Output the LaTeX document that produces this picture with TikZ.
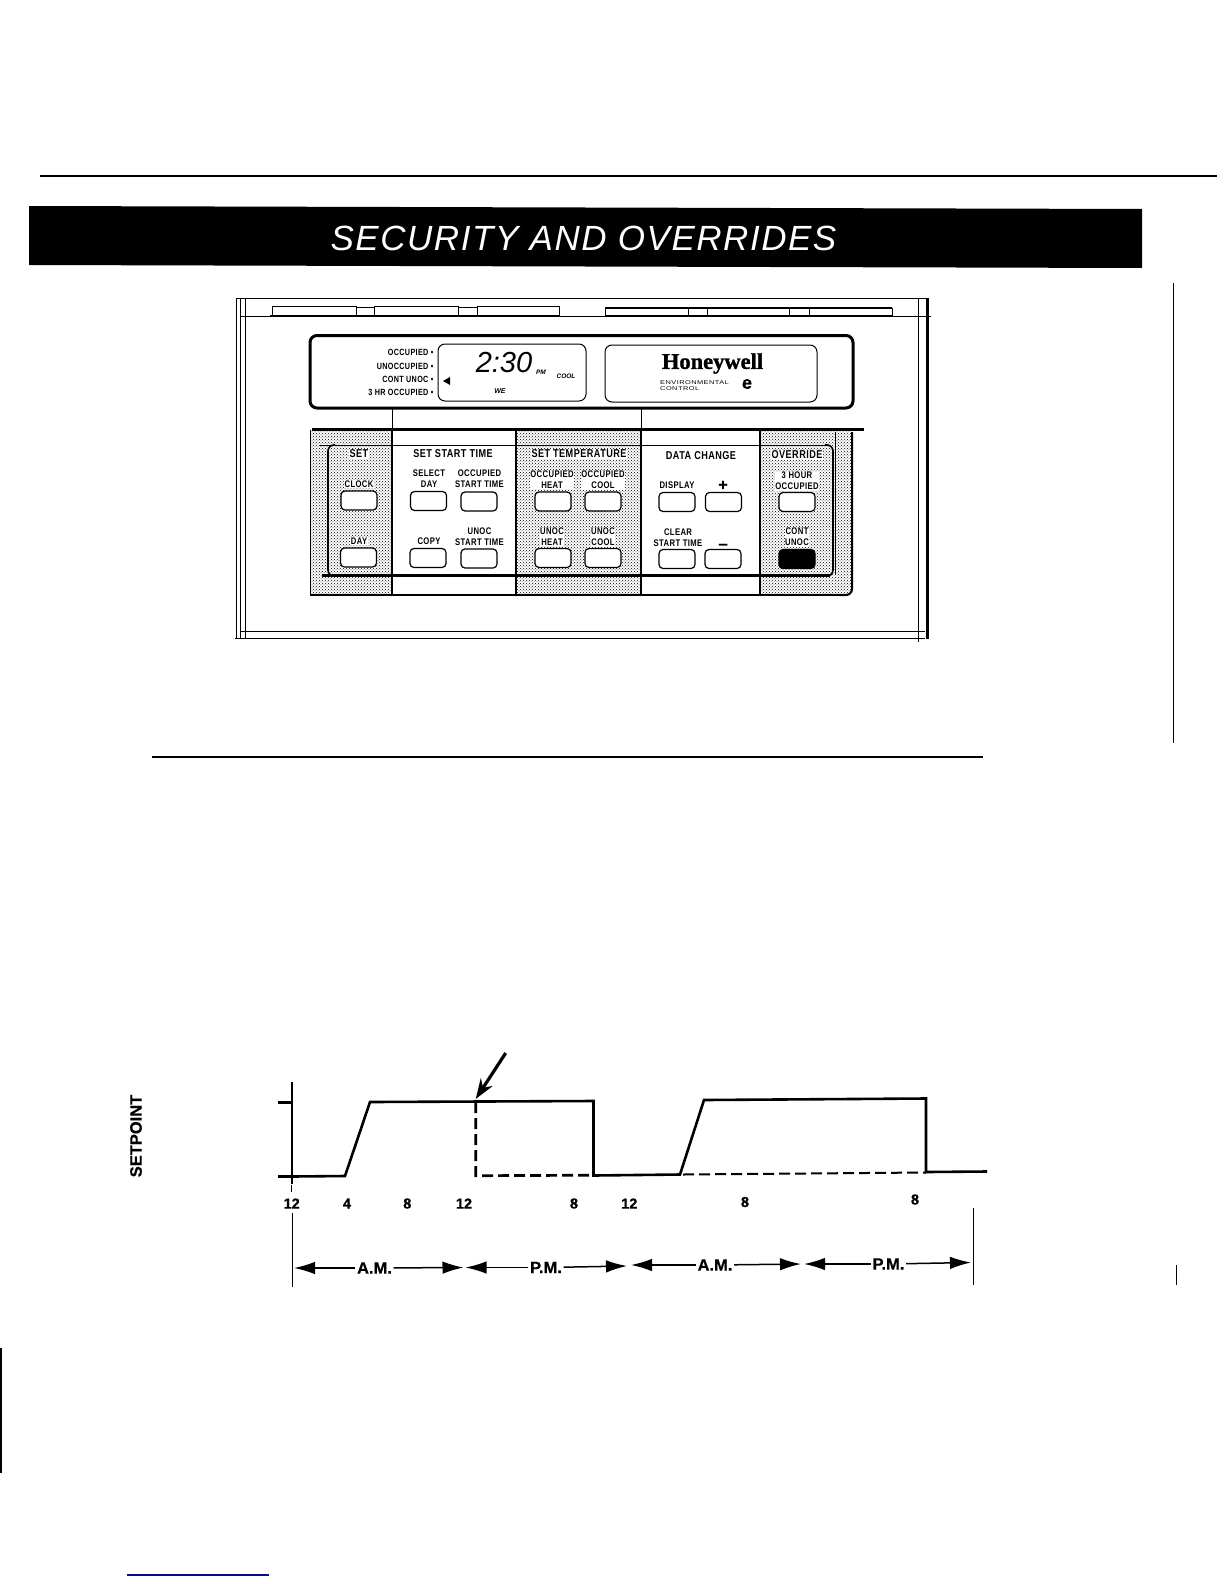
\documentclass[tikz,border=0pt]{standalone}
\usepackage{fontspec}
\usetikzlibrary{arrows.meta,patterns}
\setmainfont{Liberation Sans}
\newfontfamily\panelfont[FakeStretch=0.8,LetterSpace=4]{Liberation Sans}
\newfontfamily\bannerfont[LetterSpace=4.4]{Liberation Sans}
\newfontfamily\brandfont[FakeBold=1.2]{Liberation Serif}
\newfontfamily\smallfont[FakeStretch=1.35,LetterSpace=8]{Liberation Sans}
\newfontfamily\heavyfont[FakeBold=0.5]{Liberation Sans}
\definecolor{footblue}{RGB}{10,10,140}
\tikzset{
    lamptext/.style={font=\panelfont\bfseries\fontsize{9}{11}\selectfont,inner sep=0.5pt},
    paneltext/.style={font=\panelfont\bfseries\fontsize{9.6}{11.2}\selectfont,align=center,inner sep=0.5pt},
    shadetext/.style={paneltext,fill=white},
    headtext/.style={font=\panelfont\bfseries\fontsize{11.4}{12}\selectfont,inner sep=0.5pt},
    panelbtn/.style={draw,line width=1.2pt,rounded corners=4pt,minimum width=36pt,minimum height=19pt,inner sep=0pt},
    hourtext/.style={font=\heavyfont\bfseries\fontsize{14.5}{15}\selectfont,inner sep=0pt},
    spantext/.style={font=\heavyfont\bfseries\fontsize{16.5}{17}\selectfont,inner sep=1.5pt},
    spanline/.style={line width=1.5pt,-{Latex[length=21pt,width=12.5pt]}},
    curve/.style={line width=2.6pt,line join=miter},
    dashcurve/.style={line width=2.7pt,dash pattern=on 11pt off 5pt},
    stipple/.style={pattern=crosshatch dots,pattern color=black}
}
\begin{document}
\begin{tikzpicture}[x=1pt,y=-1pt]
    \useasboundingbox (0,0) rectangle (1224,1584);

    % rules round the page
    \draw[line width=2.4pt] (40,176) -- (1217,176);
    \draw[line width=1.1pt] (152,757) -- (983,757);
    \draw[line width=1.1pt] (1173.5,283) -- (1173.5,743);
    \draw[line width=1pt] (1176.5,1265) -- (1176.5,1285);
    \draw[line width=2pt] (1,1348) -- (1,1473);
    \draw[line width=1.2pt,footblue] (127,1575) -- (269,1575);

    % banner
    \fill (29,206) -- (1142,209) -- (1142,268) -- (29,265) -- cycle;
    \node[white,font=\bannerfont\itshape\fontsize{35}{36}\selectfont,inner sep=0pt] (banner) at (583.5,238) {SECURITY AND OVERRIDES};

    % frame of the device
    \draw[line width=0.9pt] (236,298) -- (927,298);
    \draw[line width=0.9pt] (240,316) -- (931,316);
    \draw[line width=0.9pt] (240,631) -- (925,631);
    \draw[line width=0.9pt] (235,638) -- (925,638);
    \draw[line width=0.9pt] (236,298) -- (236,639);
    \draw[line width=0.9pt] (240,298) -- (240,639);
    \draw[line width=0.9pt] (245,298) -- (245,639);
    \draw[line width=0.9pt] (918,299) -- (918,642);
    \draw[line width=3pt] (927,298) -- (927,639);

    % tabs on top
    \foreach \xa/\xb in {272/356,374/458,477/559}
        \draw[line width=1pt] (\xa,316) -- (\xa,306.5) -- (\xb,306.5) -- (\xb,316);
    \draw[line width=1pt] (356,307) -- (374,307);
    \draw[line width=1pt] (458,307) -- (477,307);
    \draw[line width=2pt] (270,315.5) -- (559,315.5);
    \foreach \xa/\xb in {605/688,707/789,809/892}
        \draw[line width=1pt] (\xa,316) -- (\xa,308) -- (\xb,308) -- (\xb,316);
    \draw[line width=1.4pt] (605,308) -- (892,308);
    \draw[line width=2pt] (605,316) -- (892,316);

    % display
    \draw[line width=3pt,rounded corners=7pt] (310,335.5) rectangle (853,408);
    \draw[line width=1pt,rounded corners=7pt] (438,344) rectangle (586,401);
    \draw[line width=1pt,rounded corners=7pt] (605,345) rectangle (817,402);
    \draw[line width=1pt] (392,409) -- (392,430);
    \draw[line width=1pt] (641,409) -- (641,430);

    \node[lamptext,anchor=east] (lamp1) at (434,352.5) {OCCUPIED •};
    \node[lamptext,anchor=east] (lamp2) at (434,366) {UNOCCUPIED •};
    \node[lamptext,anchor=east] (lamp3) at (434,379) {CONT UNOC •};
    \node[lamptext,anchor=east] (lamp4) at (434,392) {3 HR OCCUPIED •};
    \fill (443,381) -- (450,377) -- (450,385) -- cycle;
    \node[font=\itshape\fontsize{29}{30}\selectfont,inner sep=0pt] (clockface) at (504,363) {2:30};
    \node[font=\bfseries\itshape\fontsize{6.5}{7}\selectfont,inner sep=0pt] (pmtext) at (541,372) {PM};
    \node[font=\bfseries\itshape\fontsize{6.5}{7}\selectfont,inner sep=0pt] (cooltext) at (566,376) {COOL};
    \node[font=\bfseries\itshape\fontsize{7}{8}\selectfont,inner sep=0pt] (daytext) at (500,391) {WE};

    \node[font=\brandfont\bfseries\fontsize{22.5}{23}\selectfont,inner sep=0pt] (brand) at (712.5,363.5) {Honeywell};
    \node[font=\smallfont\fontsize{5.5}{6.6}\selectfont,align=left,inner sep=0pt,anchor=west] (brandsub) at (660,385.5) {ENVIRONMENTAL\\CONTROL};
    \node[font=\heavyfont\bfseries\fontsize{18}{18}\selectfont,inner sep=0pt] (brandmark) at (747,384) {e};

    % keypad, shaded parts
    \fill[stipple,rounded corners=5pt] (310,430) -- (310,595) -- (392,595) -- (392,430) -- cycle;
    \fill[stipple] (516,430) rectangle (641,595);
    \fill[stipple,rounded corners=5pt] (760,430) -- (852,430) -- (852,595) -- (760,595) -- cycle;

    \draw[line width=2.4pt] (312,429.5) -- (864,429.5);
    \draw[line width=1.4pt] (310,595) -- (848,595);
    \draw[line width=0.9pt] (310,430) -- (310,595);
    \draw[line width=2pt,rounded corners=6pt] (852,432) -- (852,595) -- (840,595);
    \draw[line width=1.6pt] (392,430) -- (392,595);
    \draw[line width=1.4pt] (516,430) -- (516,595);
    \draw[line width=1.1pt] (641,430) -- (641,595);
    \draw[line width=1.1pt] (760,430) -- (760,595);

    % inner outline
    \draw[line width=1pt] (320,445) -- (828,445);
    \draw[line width=1.6pt,rounded corners=6pt] (335,445) -- (328,445) -- (328,576) -- (335,576);
    \draw[line width=1.6pt,rounded corners=6pt] (825,445) -- (833,445) -- (833,576) -- (825,576);
    \draw[line width=2.8pt] (322,575.5) -- (830,575.5);
    \draw[line width=0.8pt] (835,432) -- (835,574);

    % button labels
    \node[headtext,fill=white] (sethead) at (359,454) {SET};
    \node[shadetext] at (359,484) {CLOCK};
    \node[shadetext] at (359,541) {DAY};

    \node[headtext] (starthead) at (453,454) {SET START TIME};
    \node[paneltext] at (429,479) {SELECT\\DAY};
    \node[paneltext] at (479.5,479) {OCCUPIED\\START TIME};
    \node[paneltext] at (429,541.5) {COPY};
    \node[paneltext] at (479.5,536.5) {UNOC\\START TIME};

    \node[headtext,fill=white] (temphead) at (579,454) {SET TEMPERATURE};
    \node[shadetext] at (552,480) {OCCUPIED\\HEAT};
    \node[shadetext] at (603,480) {OCCUPIED\\COOL};
    \node[shadetext] at (552,537) {UNOC\\HEAT};
    \node[shadetext] at (603,537) {UNOC\\COOL};

    \node[headtext] (datahead) at (701,455.5) {DATA CHANGE};
    \node[paneltext] at (677,485.5) {DISPLAY};
    \node[font=\heavyfont\bfseries\fontsize{16}{16}\selectfont,inner sep=0pt] at (723,485.5) {+};
    \node[paneltext] at (678,537.5) {CLEAR\\START TIME};
    \node[font=\heavyfont\bfseries\fontsize{17}{17}\selectfont,inner sep=0pt] at (723,546.5) {–};

    \node[headtext,fill=white] (overhead) at (797,455) {OVERRIDE};
    \node[shadetext] at (797,481) {3 HOUR\\OCCUPIED};
    \node[shadetext] at (797,537) {CONT\\UNOC};

    % buttons
    \foreach \btn/\px/\py in {clock/359/500.5,day/358.5/557.5,select/428.5/501,occstart/479/501.5,copy/428/558,unocstart/479/558.5,
        occheat/553/501.5,occcool/603/501.5,unocheat/553/558,unoccool/603/558,display/677/502,plus/723.5/502,clear/677/559,minus/723/559,threehr/797/502}
        \node[panelbtn,fill=white] (\btn) at (\px,\py) {};
    \node[panelbtn,fill=black] (contunoc) at (797,559) {};

    % setpoint chart
    \node[rotate=90,font=\heavyfont\bfseries\fontsize{16.5}{17}\selectfont,inner sep=0pt] (setpoint) at (136,1136) {SETPOINT};
    \draw[line width=1.8pt] (292,1082) -- (292,1184);
    \draw[line width=1pt] (291,1185) -- (291,1192);
    \draw[line width=1.8pt] (292.5,1213) -- (292.5,1287);
    \draw[line width=3pt] (278,1102) -- (292,1102);
    \draw[line width=3pt] (278,1176.5) -- (292,1176.5);

    % solid curve, then the dashed one
    \draw[curve] (292,1176.5) -- (345,1176) -- (370,1102) -- (593.5,1101) -- (593.5,1175.5) -- (680,1174.5) -- (704,1100) -- (926,1098.5) -- (926,1172) -- (987,1171.5);
    \draw[dashcurve] (475.7,1102) -- (475.7,1175.7) -- (593,1175.2);
    \draw[dashcurve,line width=2pt] (683,1174.5) -- (926,1172.5);

    \coordinate (pointerfrom) at (505.7,1053);
    \coordinate (pointerto) at (475.7,1099);
    \draw[line width=3.2pt,-{Stealth[length=20pt,width=14pt]}] (pointerfrom) -- (pointerto);

    % hours
    \node[hourtext] (hour12a) at (291.7,1203.5) {12};
    \node[hourtext] (hour4) at (347,1203.5) {4};
    \node[hourtext] (hour8a) at (407.3,1203.5) {8};
    \node[hourtext] (hour12b) at (464,1203.5) {12};
    \node[hourtext] (hour8b) at (574,1203.5) {8};
    \node[hourtext] (hour12c) at (629.3,1203.5) {12};
    \node[hourtext] (hour8c) at (745,1202) {8};
    \node[hourtext] (hour8d) at (915,1199.5) {8};

    % spans below the hours
    \draw[line width=1pt] (973.5,1208) -- (973.5,1285);
    \node[spantext] (am1) at (374.5,1268) {A.M.};
    \node[spantext] (pm1) at (546,1267.5) {P.M.};
    \node[spantext] (am2) at (715,1265) {A.M.};
    \node[spantext] (pm2) at (888.5,1264) {P.M.};
    \coordinate (am1l) at (294,1268);
    \coordinate (am1r) at (463.5,1267.5);
    \coordinate (pm1l) at (465.5,1267.5);
    \coordinate (pm1r) at (627,1266);
    \coordinate (am2l) at (631,1265);
    \coordinate (am2r) at (801,1264);
    \coordinate (pm2l) at (804,1264);
    \coordinate (pm2r) at (971,1262.5);
    \draw[spanline] (am1) -- (am1l);
    \draw[spanline] (am1) -- (am1r);
    \draw[spanline] (pm1) -- (pm1l);
    \draw[spanline] (pm1) -- (pm1r);
    \draw[spanline] (am2) -- (am2l);
    \draw[spanline] (am2) -- (am2r);
    \draw[spanline] (pm2) -- (pm2l);
    \draw[spanline] (pm2) -- (pm2r);
\end{tikzpicture}
\end{document}
